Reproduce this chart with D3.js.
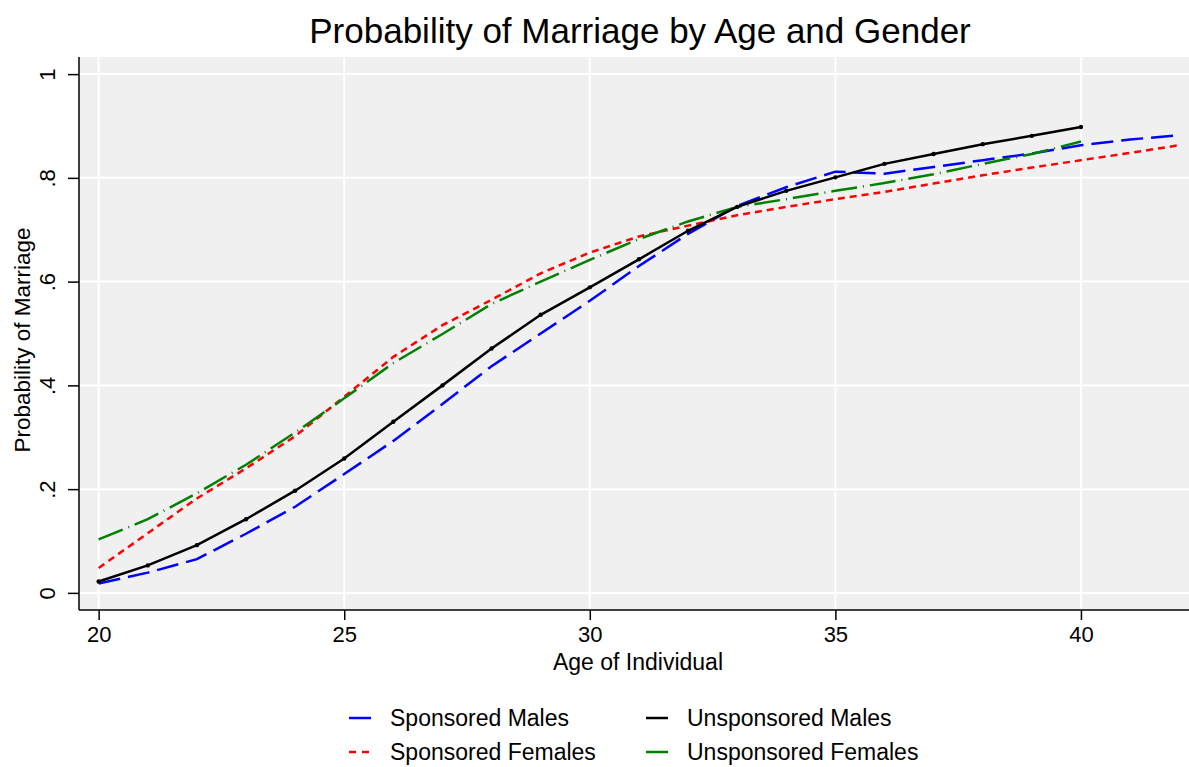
<!DOCTYPE html>
<html>
<head>
<meta charset="utf-8">
<script src="https://cdn.jsdelivr.net/npm/d3@7"></script>
<style>
  body { margin: 0; background: #fff; }
  text { font-family: "Liberation Sans", Arial, sans-serif; fill: #000; }
</style>
</head>
<body>
<svg id="chart" width="1189" height="767"></svg>
<script>
// ages and values
var agesLong = d3.range(20, 43);   // 20..42
var agesShort = d3.range(20, 41);  // 20..40

var sponsoredMales = [0.018, 0.039, 0.065, 0.114, 0.166, 0.229, 0.293, 0.364, 0.437, 0.500,
    0.563, 0.630, 0.692, 0.746, 0.782, 0.812, 0.808, 0.821, 0.834, 0.847, 0.863, 0.874, 0.882];
var sponsoredFemales = [0.048, 0.115, 0.182, 0.240, 0.302, 0.378, 0.455, 0.516, 0.565, 0.616,
    0.656, 0.687, 0.708, 0.728, 0.744, 0.759, 0.773, 0.789, 0.805, 0.820, 0.834, 0.848, 0.863];
var unsponsoredMales = [0.022, 0.053, 0.092, 0.142, 0.197, 0.259, 0.330, 0.400, 0.471, 0.536,
    0.589, 0.643, 0.698, 0.744, 0.775, 0.801, 0.827, 0.846, 0.865, 0.881, 0.898];
var unsponsoredFemales = [0.103, 0.142, 0.192, 0.247, 0.309, 0.375, 0.443, 0.499, 0.557, 0.600,
    0.642, 0.682, 0.716, 0.744, 0.759, 0.775, 0.790, 0.807, 0.827, 0.846, 0.870];

var xTicks = [20, 25, 30, 35, 40];
var yTicks = [0, 0.2, 0.4, 0.6, 0.8, 1];
var yTickLabels = ["0", ".2", ".4", ".6", ".8", "1"];

// series drawing options
var series = [
    { name: "Sponsored Males", ages: agesLong, values: sponsoredMales, color: "#0000ff", dash: "22,8", legendDash: null },
    { name: "Sponsored Females", ages: agesLong, values: sponsoredFemales, color: "#ff0000", dash: "7,5", legendDash: "7,6" },
    { name: "Unsponsored Females", ages: agesShort, values: unsponsoredFemales, color: "#008000", dash: "26,6,1,6", legendDash: null },
    { name: "Unsponsored Males", ages: agesShort, values: unsponsoredMales, color: "#000000", dash: null, legendDash: null, dots: true }
];

var svg = d3.select("#chart");

var plot = { left: 79, right: 1189, top: 57, bottom: 610 };

var x = d3.scaleLinear().domain([19.6, 42.2]).range([plot.left, plot.right]);
var y = d3.scaleLinear().domain([-0.033, 1.033]).range([plot.bottom, plot.top]);

// background
svg.append("rect")
    .attr("x", plot.left).attr("y", plot.top)
    .attr("width", plot.right - plot.left).attr("height", plot.bottom - plot.top)
    .attr("fill", "#f0f0f0");

// grid lines
svg.append("g").selectAll("line").data(yTicks).enter().append("line")
    .attr("x1", plot.left).attr("x2", plot.right)
    .attr("y1", function (d) { return y(d); }).attr("y2", function (d) { return y(d); })
    .attr("stroke", "#fff").attr("stroke-width", 2);
svg.append("g").selectAll("line").data(xTicks).enter().append("line")
    .attr("y1", plot.top).attr("y2", plot.bottom)
    .attr("x1", function (d) { return x(d); }).attr("x2", function (d) { return x(d); })
    .attr("stroke", "#fff").attr("stroke-width", 2);

// lines
var line = d3.line()
    .x(function (d) { return x(d[0]); })
    .y(function (d) { return y(d[1]); });

series.forEach(function (s) {
    var pts = s.ages.map(function (a, i) { return [a, s.values[i]]; });
    svg.append("path")
        .datum(pts)
        .attr("d", line)
        .attr("fill", "none")
        .attr("stroke", s.color)
        .attr("stroke-width", 2.5)
        .attr("stroke-dasharray", s.dash);
    if (s.dots) {
        svg.append("g").selectAll("circle").data(pts).enter().append("circle")
            .attr("cx", function (d) { return x(d[0]); })
            .attr("cy", function (d) { return y(d[1]); })
            .attr("r", 2.2)
            .attr("fill", s.color);
    }
});

// axes
var xAxis = d3.axisBottom(x).tickValues(xTicks).tickSize(10).tickPadding(6);
var gx = svg.append("g").attr("transform", "translate(0," + plot.bottom + ")").call(xAxis);
gx.select(".domain").attr("d", "M" + plot.left + ",0H" + plot.right).attr("stroke-width", 1.5);
gx.selectAll(".tick line").attr("stroke-width", 1.5);
gx.selectAll(".tick text").style("font-size", "22px").style("font-family", "Liberation Sans, Arial, sans-serif");

var yAxis = d3.axisLeft(y).tickValues(yTicks).tickSize(11)
    .tickFormat(function (d, i) { return yTickLabels[i]; });
var gy = svg.append("g").attr("transform", "translate(" + plot.left + ",0)").call(yAxis);
gy.select(".domain").attr("d", "M0," + plot.top + "V" + plot.bottom).attr("stroke-width", 1.5);
gy.selectAll(".tick line").attr("stroke-width", 1.5);
gy.selectAll(".tick text")
    .attr("x", null).attr("dy", null)
    .attr("text-anchor", "middle")
    .attr("transform", "translate(-32,0) rotate(-90)")
    .attr("y", 8)
    .style("font-size", "22px").style("font-family", "Liberation Sans, Arial, sans-serif");

// titles
svg.append("text")
    .attr("x", 640).attr("y", 43)
    .attr("text-anchor", "middle")
    .style("font-size", "35px")
    .text("Probability of Marriage by Age and Gender");

svg.append("text")
    .attr("x", 638).attr("y", 670)
    .attr("text-anchor", "middle")
    .style("font-size", "23px")
    .text("Age of Individual");

svg.append("text")
    .attr("transform", "translate(30,340) rotate(-90)")
    .attr("text-anchor", "middle")
    .style("font-size", "22.5px")
    .text("Probability of Marriage");

// legend: two columns
var legendItems = [
    { s: series[0], col: 0, row: 0 },
    { s: series[3], col: 1, row: 0 },
    { s: series[1], col: 0, row: 1 },
    { s: series[2], col: 1, row: 1 }
];
var legendCols = [349, 646];
var legendRows = [718, 752];

var lg = svg.append("g").selectAll("g").data(legendItems).enter().append("g")
    .attr("transform", function (d) { return "translate(" + legendCols[d.col] + "," + legendRows[d.row] + ")"; });
lg.append("line")
    .attr("x1", 0).attr("x2", 22).attr("y1", 0).attr("y2", 0)
    .attr("stroke", function (d) { return d.s.color; })
    .attr("stroke-width", 2.5)
    .attr("stroke-dasharray", function (d) { return d.s.legendDash; });
lg.append("text")
    .attr("x", 41).attr("y", 8)
    .style("font-size", "23px")
    .text(function (d) { return d.s.name; });
</script>
</body>
</html>
